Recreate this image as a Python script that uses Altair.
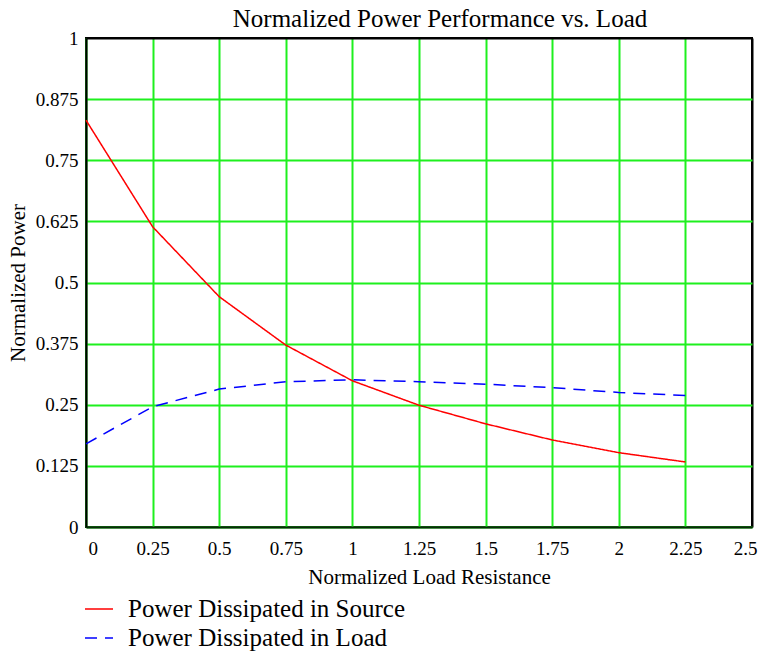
import altair as alt
import pandas as pd

x_vals = [0, 0.25, 0.5, 0.75, 1.0, 1.25, 1.5, 1.75, 2.0, 2.25]
source_power = [0.832, 0.614, 0.471, 0.372, 0.299, 0.249, 0.211, 0.178, 0.152, 0.133]
load_power = [0.170, 0.246, 0.282, 0.297, 0.301, 0.297, 0.292, 0.285, 0.275, 0.269]
series_names = ["Power Dissipated in Source", "Power Dissipated in Load"]
x_ticks = [0, 0.25, 0.5, 0.75, 1, 1.25, 1.5, 1.75, 2, 2.25, 2.5]
y_ticks = [0, 0.125, 0.25, 0.375, 0.5, 0.625, 0.75, 0.875, 1]

rows = []
for xv, s, l in zip(x_vals, source_power, load_power):
    rows.append({"R": xv, "P": s, "series": series_names[0]})
    rows.append({"R": xv, "P": l, "series": series_names[1]})
df = pd.DataFrame(rows)

FONT = "Liberation Serif"
GRID = "#1ef01e"

leg = dict(title=None, orient="none", legendX=-2, legendY=556,
           symbolType="stroke", symbolSize=784, symbolStrokeWidth=1.5,
           labelFont=FONT, labelFontSize=25, labelColor="black",
           rowPadding=1, labelOffset=14, labelLimit=500)

chart = alt.Chart(df).mark_line(strokeWidth=1.5).encode(
    x=alt.X("R:Q", scale=alt.Scale(domain=[0, 2.5], nice=False),
            axis=alt.Axis(values=x_ticks, title="Normalized Load Resistance",
                          labelExpr="format(datum.value, '')",
                          labelAlign={"condition": [
                                          {"test": "datum.value == 0", "value": "left"},
                                          {"test": "datum.value == 2.5", "value": "right"}],
                                      "value": "center"},
                          labelOffset={"condition": [
                                          {"test": "datum.value == 0", "value": 2},
                                          {"test": "datum.value == 2.5", "value": 5}],
                                       "value": 0},
                          ticks=False, labelPadding=12, titlePadding=8, titleX=343,
                          labelFontSize=19, titleFontSize=21, labelFont=FONT, titleFont=FONT,
                          titleFontWeight="normal", labelColor="black", titleColor="black",
                          gridColor={"condition": {"test": "datum.value >= 2.5", "value": "black"},
                                     "value": GRID},
                          gridWidth=2, domainColor="#0a2a0a", domainWidth=2)),
    y=alt.Y("P:Q", scale=alt.Scale(domain=[0, 1], nice=False),
            axis=alt.Axis(values=y_ticks, title="Normalized  Power",
                          labelExpr="format(datum.value, '')",
                          ticks=False, labelPadding=8, titlePadding=7,
                          labelFontSize=19, titleFontSize=21, labelFont=FONT, titleFont=FONT,
                          titleFontWeight="normal", labelColor="black", titleColor="black",
                          gridColor={"condition": {"test": "datum.value >= 1", "value": "black"},
                                     "value": GRID},
                          gridWidth=2, domainColor="black", domainWidth=2)),
    color=alt.Color("series:N", scale=alt.Scale(domain=series_names, range=["#ff0000", "#0000ff"]),
                    legend=alt.Legend(**leg)),
    strokeDash=alt.StrokeDash("series:N",
                              scale=alt.Scale(domain=series_names, range=[[1, 0], [12, 8]]),
                              legend=alt.Legend(**leg)),
).properties(
    width=666, height=489,
    title=alt.Title("Normalized Power Performance vs. Load", font=FONT, fontSize=25,
                    fontWeight="normal", color="black", offset=1, dy=4, dx=21),
    autosize=alt.AutoSizeParams(type="none"),
    padding={"left": 78, "top": 30, "right": 6, "bottom": 125},
).configure_view(stroke="black", strokeWidth=2)

chart.save("out.html", embed_options={"renderer": "svg", "actions": False})
